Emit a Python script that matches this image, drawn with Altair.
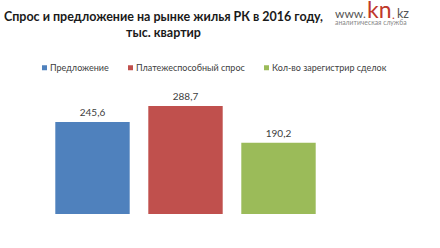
import altair as alt
import pandas as pd

categories = ["Предложение", "Платежеспособный спрос", "Кол-во зарегистрир сделок"]
values = [245.6, 288.7, 190.2]
colors = ["#4F81BD", "#C0504D", "#9BBB59"]
title_lines = ["Спрос и предложение на рынке жилья РК в 2016 году,", "тыс. квартир"]

df = pd.DataFrame({
    "cat": categories,
    "val": values,
    "label": [f"{v:.1f}".replace(".", ",") for v in values],
})

FONT = "Lato"

x = alt.X("cat:N", sort=categories, axis=None,
          scale=alt.Scale(paddingInner=0.2, paddingOuter=0.1))
y = alt.Y("val:Q", axis=None, scale=alt.Scale(domain=[0, 350], nice=False))

bars = alt.Chart(df).mark_bar().encode(
    x=x, y=y,
    color=alt.Color("cat:N", sort=categories,
                    scale=alt.Scale(domain=categories, range=colors),
                    legend=alt.Legend(orient="none", legendX=-6, legendY=-20,
                                      direction="horizontal", title=None,
                                      symbolType="square", symbolSize=25,
                                      symbolStrokeWidth=0,
                                      labelFont=FONT, labelFontSize=9,
                                      labelColor="#404040", columnPadding=17,
                                      labelOffset=1)),
)

labels = alt.Chart(df).mark_text(dy=-9, font=FONT, fontSize=10, color="#404040").encode(
    x=x, y=y, text="label:N"
)

one = pd.DataFrame({"t": ["logo"]})


def logo_part(txt, xpos, ypos, size, color):
    return alt.Chart(one).mark_text(align="left", baseline="alphabetic", font=FONT,
                                    fontSize=size, color=color).encode(
        x=alt.value(xpos), y=alt.value(ypos), text=alt.value(txt))


logo = [
    logo_part("www.", 289, -65, 12, "#555555"),
    logo_part("kn", 321, -65, 23, "#C0392B"),
    logo_part(".", 346, -64, 12, "#C0392B"),
    logo_part("kz", 351, -65, 12.5, "#555555"),
    logo_part("аналитическая служба", 289, -58, 6.8, "#888888"),
]

chart = alt.layer(bars, labels, *logo).properties(
    width=279, height=131,
    background="white",
    title=alt.TitleParams(title_lines, anchor="middle", dx=-22, offset=0, dy=39,
                          font=FONT, fontSize=12.5, fontWeight="bold", color="#1a1a1a",
                          lineHeight=16),
    autosize=alt.AutoSizeParams(type="none"),
    padding={"left": 46, "top": 83, "right": 115, "bottom": 34},
).configure_view(stroke="transparent", strokeWidth=0)

chart.save("out.html", embed_options={"renderer": "svg", "actions": False})
